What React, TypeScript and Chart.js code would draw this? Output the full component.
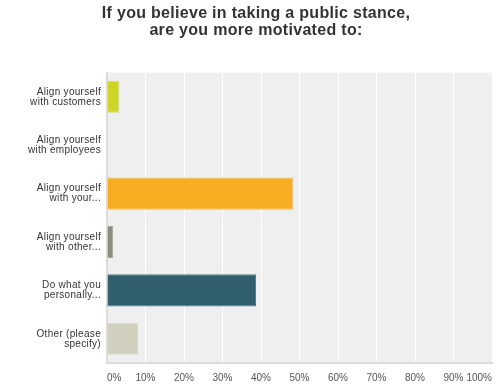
import React, { useEffect, useRef } from "react";
import { Chart, registerables } from "chart.js";

Chart.register(...registerables);

const titleLines = ["If you believe in taking a public stance,", "are you more motivated to:"];
const categories = [
  ["Align yourself", "with customers"],
  ["Align yourself", "with employees"],
  ["Align yourself", "with your..."],
  ["Align yourself", "with other..."],
  ["Do what you", "personally..."],
  ["Other (please", "specify)"],
];
const values = [3.23, 0, 48.39, 1.61, 38.71, 8.06];
const barColors = ["#cfd527", "#f6ad22", "#f6ad22", "#8b8f7b", "#2f5e6c", "#d1cfbe"];
const borderColors = ["#d9de55", "#f8bd4e", "#f8bd4e", "#a2a594", "#517b87", "#dcdacc"];
const xMax = 100;
const xStep = 10;

const bgPlugin = {
  id: "plotBg",
  beforeDraw(chart: any) {
    const { ctx, chartArea } = chart;
    ctx.save();
    ctx.fillStyle = "#efefef";
    ctx.fillRect(chartArea.left, chartArea.top, chartArea.right - chartArea.left, chartArea.bottom - chartArea.top);
    ctx.restore();
  },
};

const spacingPlugin = {
  id: "spacing",
  afterLayout(chart: any) {
    const t = chart.titleBlock;
    if (t) {
      t.left = 20;
      t.right = 492;
      if (!t.__wrapped) {
        const orig = t.draw.bind(t);
        t.draw = (area: any) => {
          chart.ctx.save();
          chart.ctx.letterSpacing = "0.3px";
          orig(area);
          chart.ctx.restore();
        };
        t.__wrapped = true;
      }
    }
    const y = chart.scales.y;
    if (y && !y.__wrapped) {
      const origLabels = y.drawLabels.bind(y);
      y.drawLabels = (area: any) => {
        chart.ctx.save();
        chart.ctx.letterSpacing = "0.3px";
        origLabels(area);
        chart.ctx.restore();
      };
      y.__wrapped = true;
    }
  },
};

export default function App() {
  const ref = useRef<HTMLCanvasElement>(null);
  useEffect(() => {
    if (!ref.current) return;
    const chart = new Chart(ref.current, {
      type: "bar",
      data: {
        labels: categories,
        datasets: [
          {
            data: values,
            backgroundColor: barColors,
            borderColor: borderColors,
            borderWidth: 1,
            barPercentage: 0.83,
            categoryPercentage: 0.8,
          },
        ],
      },
      plugins: [bgPlugin, spacingPlugin],
      options: {
        indexAxis: "y",
        animation: false,
        responsive: false,
        layout: { padding: { left: 0, right: 10, top: 0, bottom: 0 } },
        plugins: {
          legend: { display: false },
          tooltip: { enabled: false },
          title: {
            display: true,
            text: titleLines,
            color: "#333333",
            font: { family: "'Liberation Sans', Arial, sans-serif", size: 16, weight: "bold", lineHeight: 1.08 },
            padding: { top: 5, bottom: 33 },
          },
        },
        scales: {
          x: {
            min: 0,
            max: xMax,
            ticks: {
              stepSize: xStep,
              align: "inner",
              color: "#555555",
              padding: 9,
              font: { family: "'Liberation Sans', Arial, sans-serif", size: 10 },
              callback: (v: any) => v + "%",
            },
            grid: { color: "#ffffff", lineWidth: 1, drawTicks: false },
            border: { display: true, color: "#dcdcdc", width: 2 },
            afterFit: (scale: any) => {
              scale.height = 27;
            },
          },
          y: {
            ticks: {
              color: "#333333",
              padding: 6,
              font: { family: "'Liberation Sans', Arial, sans-serif", size: 10, lineHeight: 1.0 },
            },
            grid: { display: false, drawTicks: false },
            border: { display: true, color: "#dcdcdc", width: 2 },
            afterFit: (scale: any) => {
              scale.width = 107;
            },
          },
        },
      },
    });
    return () => chart.destroy();
  }, []);
  return (
    <div style={{ position: "absolute", left: 0, top: 0, width: 502, height: 390, background: "#ffffff" }}>
      <canvas ref={ref} width={502} height={390} />
    </div>
  );
}
